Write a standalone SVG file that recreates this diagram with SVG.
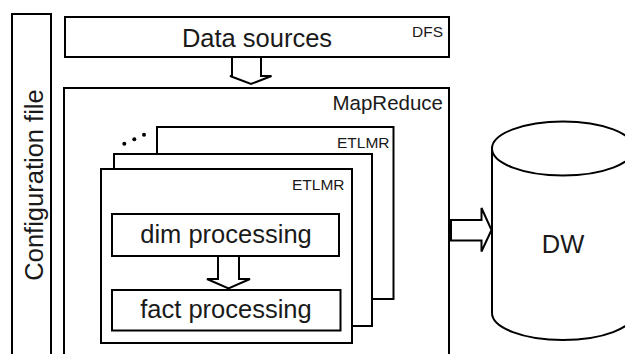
<svg xmlns="http://www.w3.org/2000/svg" width="625" height="354" viewBox="0 0 625 354">
<style>
.box{fill:#fff;stroke:#000;stroke-width:2}
.arr{fill:#fff;stroke:#000;stroke-width:2;stroke-linejoin:miter}
text{font-family:"Liberation Sans",Arial,sans-serif;fill:#1a1a1a}
.big{font-size:25.5px;text-anchor:middle}
.small{font-size:15.5px;text-anchor:end}
</style>
<rect width="625" height="354" fill="#fff"/>
<g id="config">
<rect class="box" x="12" y="14" width="39" height="350"/>
<text class="big" transform="translate(42.5,185) rotate(-90)" x="0" y="0">Configuration file</text>
</g>
<g id="datasources">
<rect class="box" x="65" y="17" width="384" height="40"/>
<text class="big" x="257" y="47">Data sources</text>
<text class="small" x="443" y="36.5">DFS</text>
</g>
<g id="mapreduce">
<rect class="box" x="64" y="88" width="385" height="280"/>
<text style="font-size:20.5px;text-anchor:end" x="443" y="110">MapReduce</text>
</g>
<g id="etlmr3">
<rect class="box" x="157" y="127" width="236.5" height="172"/>
<text class="small" x="389.5" y="147.5">ETLMR</text>
<g fill="#000"><circle cx="124.3" cy="143.7" r="2"/><circle cx="134.3" cy="139.3" r="2"/><circle cx="144" cy="134.7" r="2"/></g>
</g>
<g id="etlmr2">
<rect class="box" x="114" y="154" width="258" height="172"/>
</g>
<g id="etlmr1">
<rect class="box" x="101" y="169" width="251" height="174"/>
<text class="small" x="344.5" y="190">ETLMR</text>
</g>
<g id="dim">
<rect class="box" x="112" y="214" width="227" height="42"/>
<text class="big" x="226" y="243">dim processing</text>
</g>
<g id="fact">
<rect class="box" x="112" y="290" width="228.5" height="40.5"/>
<text class="big" x="226" y="318">fact processing</text>
</g>
<g id="dw">
<path d="M492,147 L492,313 A71,27 0 0 0 634,313 L634,147" fill="#fff" stroke="#000" stroke-width="2"/>
<ellipse cx="563" cy="148.5" rx="71" ry="27" fill="#fff" stroke="#000" stroke-width="2"/>
<text class="big" x="563" y="253">DW</text>
</g>
<g id="connectors">
<polygon class="arr" points="232,57 261,57 261,76 271.5,76 251,84 230,76 232,76"/>
<polygon class="arr" points="218,256 239,256 239,279 250,279 228.5,288.5 207,279 218,279"/>
<polygon class="arr" points="451,220 481.5,220 481.5,208 491.5,230 481.5,251.5 481.5,240.5 451,240.5"/>
</g>
</svg>
